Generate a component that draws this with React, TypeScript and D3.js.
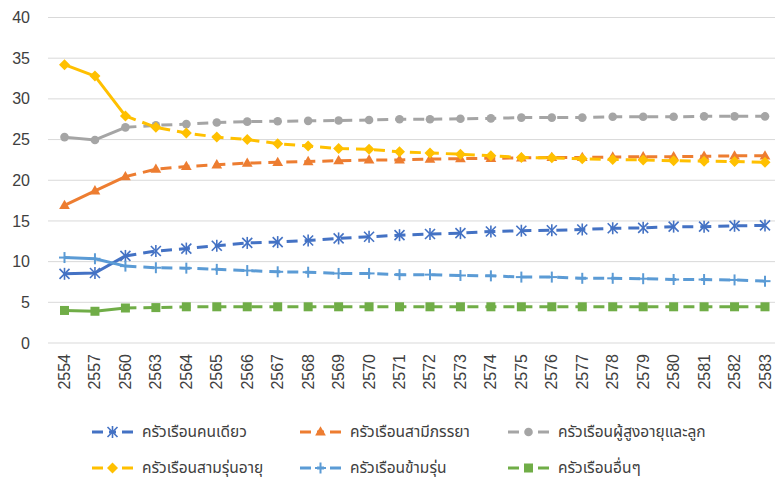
import React from "react";
import * as d3 from "d3";

const years = ["2554","2557","2560","2563","2564","2565","2566","2567","2568","2569","2570","2571","2572","2573","2574","2575","2576","2577","2578","2579","2580","2581","2582","2583"];

const single = [8.5,8.6,10.7,11.3,11.6,11.95,12.3,12.4,12.6,12.85,13.05,13.25,13.4,13.5,13.7,13.8,13.85,13.95,14.1,14.15,14.3,14.3,14.4,14.45];
const couple = [16.9,18.7,20.45,21.35,21.7,21.9,22.1,22.2,22.3,22.4,22.5,22.5,22.6,22.65,22.7,22.75,22.8,22.8,22.85,22.9,22.9,22.95,23.0,23.0];
const elderKids = [25.3,24.95,26.5,26.75,26.9,27.1,27.2,27.25,27.3,27.35,27.4,27.5,27.5,27.55,27.6,27.7,27.7,27.7,27.8,27.8,27.8,27.85,27.85,27.85];
const threeGen = [34.2,32.8,27.9,26.5,25.8,25.3,25.0,24.5,24.2,23.9,23.8,23.5,23.35,23.2,23.0,22.8,22.75,22.65,22.55,22.5,22.4,22.35,22.3,22.2];
const skipGen = [10.5,10.35,9.45,9.25,9.2,9.05,8.9,8.75,8.7,8.55,8.55,8.4,8.4,8.3,8.25,8.1,8.1,7.95,7.95,7.9,7.8,7.8,7.75,7.6];
const others = [4.0,3.9,4.3,4.35,4.45,4.45,4.45,4.45,4.45,4.45,4.45,4.45,4.45,4.45,4.45,4.45,4.45,4.45,4.45,4.45,4.45,4.45,4.45,4.45];

const yTicks = [0,5,10,15,20,25,30,35,40];

const seriesNames = ["ครัวเรือนคนเดียว","ครัวเรือนสามีภรรยา","ครัวเรือนผู้สูงอายุและลูก","ครัวเรือนสามรุ่นอายุ","ครัวเรือนข้ามรุ่น","ครัวเรือนอื่นๆ"];
const seriesData = [single, couple, elderKids, threeGen, skipGen, others];
const seriesColors = ["#4472C4","#ED7D31","#A5A5A5","#FFC000","#5B9BD5","#70AD47"];
const seriesMarkers = ["star","triangle","circle","diamond","plus","square"];

// draw order (back to front)
const drawOrder = [0, 4, 5, 2, 1, 3];

const W = 775, H = 482;
const x = d3.scalePoint<string>().domain(years).range([64.5, 765]);
const y = d3.scaleLinear().domain([0, 40]).range([343, 17.5]);

function Marker({ type, cx, cy, color }: { type: string; cx: number; cy: number; color: string }) {
  switch (type) {
    case "star": {
      const r = 5;
      return (
        <g stroke={color} strokeWidth={1.6}>
          <line x1={cx - r} y1={cy - r} x2={cx + r} y2={cy + r} />
          <line x1={cx - r} y1={cy + r} x2={cx + r} y2={cy - r} />
          <line x1={cx} y1={cy - r - 1} x2={cx} y2={cy + r + 1} />
        </g>
      );
    }
    case "triangle": {
      const p = d3.symbol().type(d3.symbolTriangle).size(50)();
      return <path d={p || ""} transform={`translate(${cx},${cy + 0.5})`} fill={color} />;
    }
    case "circle":
      return <circle cx={cx} cy={cy} r={4.3} fill={color} />;
    case "diamond": {
      const r = 5.5;
      return <path d={`M${cx - r},${cy}L${cx},${cy - r}L${cx + r},${cy}L${cx},${cy + r}Z`} fill={color} />;
    }
    case "plus": {
      const r = 5.5;
      return (
        <g stroke={color} strokeWidth={2}>
          <line x1={cx - r} y1={cy} x2={cx + r} y2={cy} />
          <line x1={cx} y1={cy - r} x2={cx} y2={cy + r} />
        </g>
      );
    }
    case "square":
      return <rect x={cx - 4.5} y={cy - 4.5} width={9} height={9} fill={color} />;
    default:
      return null;
  }
}

export default function App() {
  const line = d3.line<[number, number]>().x(d => d[0]).y(d => d[1]);
  const legendCols = [92, 300, 508];
  const legendRows = [432, 468];
  const thaiFont = "'Noto Sans Thai','Noto Sans Thai Looped','Leelawadee UI',Tahoma,'Noto Sans',sans-serif";
  return (
    <svg width={W} height={H} style={{ position: "absolute", left: 0, top: 0, background: "#fff" }}
      fontFamily="'Liberation Sans', Arial, sans-serif">
      {yTicks.map(t => (
        <g key={t}>
          <line x1={48} x2={W} y1={y(t)} y2={y(t)} stroke="#D9D9D9" strokeWidth={1} />
          <text x={30} y={y(t)} dy="0.35em" textAnchor="end" fontSize={16} fill="#404040">{t}</text>
        </g>
      ))}
      {years.map(yr => (
        <text key={yr} transform={`translate(${x(yr)! + 5.5},354) rotate(-90)`} textAnchor="end"
          fontSize={16} fill="#404040">{yr}</text>
      ))}
      {drawOrder.map(si => {
        const vals = seriesData[si];
        const pts: [number, number][] = years.map((yr, i) => [x(yr)!, y(vals[i])]);
        const solid = pts.slice(0, 3);
        const dashed = pts.slice(2);
        return (
          <g key={si}>
            <path d={line(solid) || ""} fill="none" stroke={seriesColors[si]} strokeWidth={3} strokeLinejoin="round" />
            <path d={line(dashed) || ""} fill="none" stroke={seriesColors[si]} strokeWidth={3} strokeDasharray="11 7" />
            {pts.map((p, i) => (
              <Marker key={i} type={seriesMarkers[si]} cx={p[0]} cy={p[1]} color={seriesColors[si]} />
            ))}
          </g>
        );
      })}
      {seriesNames.map((name, i) => {
        const lx = legendCols[i % 3];
        const ly = legendRows[Math.floor(i / 3)];
        return (
          <g key={name}>
            <line x1={lx} x2={lx + 41} y1={ly} y2={ly} stroke={seriesColors[i]} strokeWidth={3} strokeDasharray="11 6 7 6 11" />
            <Marker type={seriesMarkers[i]} cx={lx + 20.5} cy={ly} color={seriesColors[i]} />
            <text x={lx + 50} y={ly} dy="0.35em" fontSize={15.5} fill="#404040" fontFamily={thaiFont}>{name}</text>
          </g>
        );
      })}
    </svg>
  );
}
